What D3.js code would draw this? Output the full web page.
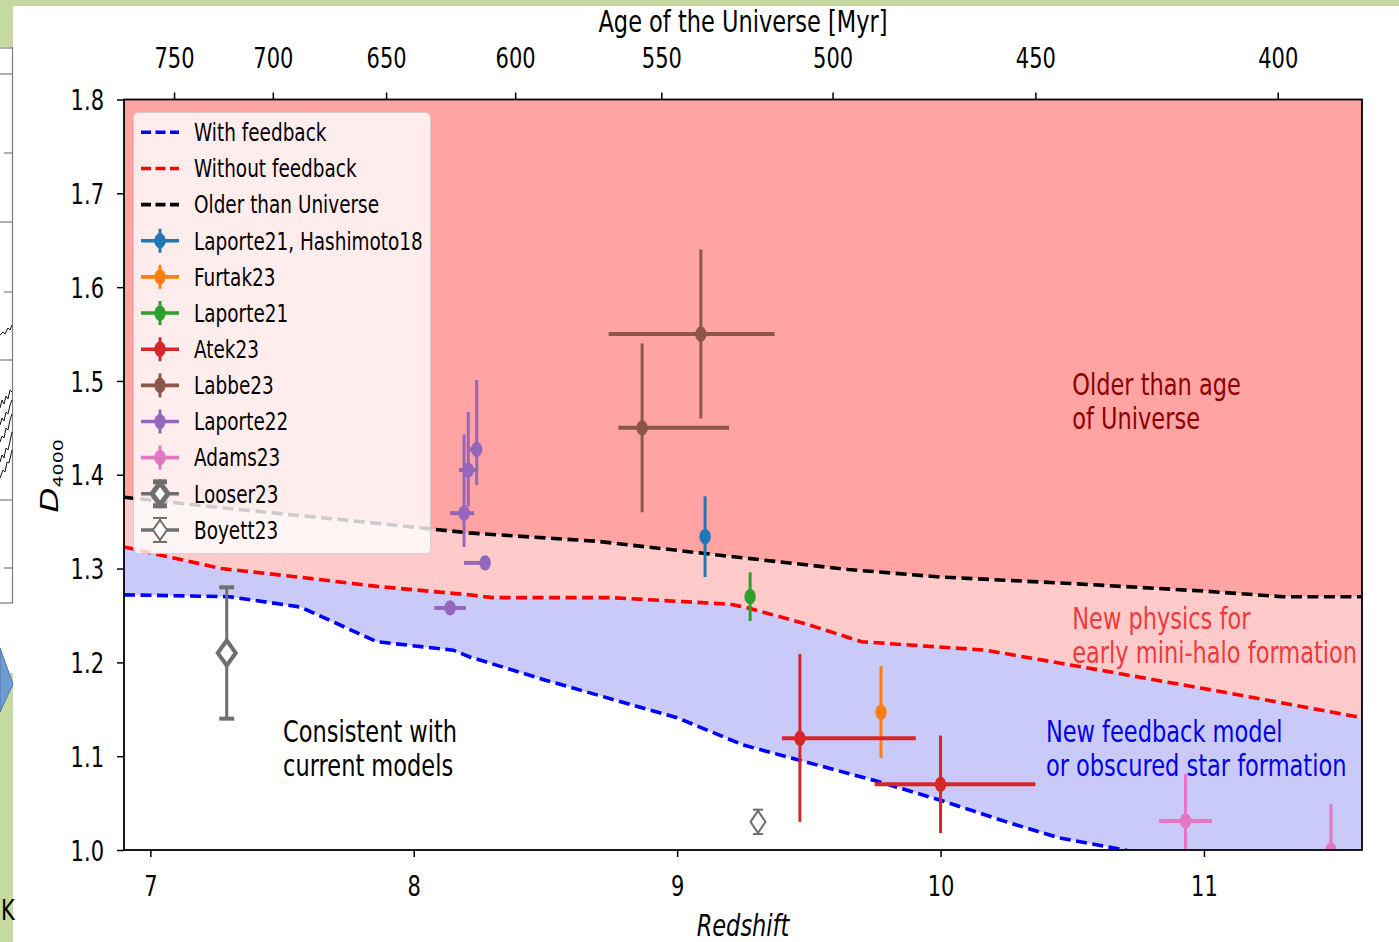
<!DOCTYPE html>
<html>
<head>
<meta charset="utf-8">
<script src="https://cdn.jsdelivr.net/npm/d3@7"></script>
<style>
  body { margin: 0; background: #fff; }
  svg { display: block; }
  text { font-family: "DejaVu Sans", "Liberation Sans", sans-serif; }
</style>
</head>
<body>
<svg id="chart" width="1399" height="942"></svg>
<script>
// ---- model curves (redshift, D4000) ----
const fbZ   = [6.9, 7.3, 7.57, 7.86, 8.15, 8.21, 8.5, 9.0, 9.25, 9.5, 9.75, 10.0, 10.25, 10.45, 10.7, 11.6];
const fbD   = [1.272, 1.270, 1.259, 1.222, 1.213, 1.206, 1.181, 1.141, 1.112, 1.093, 1.074, 1.053, 1.030, 1.013, 1.000, 0.930];
const noFbZ = [6.9, 7.27, 7.56, 7.86, 8.21, 8.3, 8.75, 9.2, 9.27, 9.5, 9.7, 10.17, 10.6, 11.1, 11.6];
const noFbD = [1.323, 1.300, 1.291, 1.281, 1.272, 1.269, 1.269, 1.262, 1.258, 1.240, 1.222, 1.213, 1.192, 1.167, 1.141];
const olderZ = [6.9, 7.3, 7.8, 8.21, 8.7, 9.2, 9.65, 10.0, 10.5, 11.0, 11.3, 11.6];
const olderD = [1.376, 1.364, 1.350, 1.338, 1.329, 1.313, 1.299, 1.291, 1.284, 1.276, 1.270, 1.270];

// ---- observations ----
const sourceNames = ["Laporte21, Hashimoto18", "Furtak23", "Laporte21", "Atek23", "Labbe23",
                     "Laporte22", "Adams23", "Looser23", "Boyett23"];
const pointSource = [0, 1, 2, 3, 3, 4, 4, 5, 5, 5, 5, 5, 6, 6, 7, 8];
const pointZ      = [9.106, 9.774, 9.277, 9.466, 10.0, 9.09, 8.867, 8.239, 8.207, 8.191, 8.271, 8.138, 10.93, 11.482, 7.29, 9.307];
const pointD      = [1.334, 1.147, 1.270, 1.119, 1.070, 1.550, 1.450, 1.427, 1.405, 1.359, 1.306, 1.258, 1.031, 1.000, 1.210, 1.030];
const zErrLo      = [0, 0, 0, 0.068, 0.25, 0.35, 0.09, 0.036, 0.035, 0.053, 0.08, 0.06, 0.10, 0, 0, 0];
const zErrHi      = [0, 0, 0, 0.44, 0.36, 0.28, 0.33, 0, 0.035, 0.038, 0, 0.06, 0.10, 0, 0, 0];
const dErrLo      = [0.043, 0.049, 0.026, 0.089, 0.052, 0.09, 0.09, 0.038, 0.039, 0.036, 0, 0, 0.05, 0.05, 0.07, 0.013];
const dErrHi      = [0.043, 0.049, 0.026, 0.090, 0.052, 0.09, 0.09, 0.074, 0.062, 0.084, 0, 0, 0.05, 0.049, 0.07, 0.013];

// ---- axis ticks ----
const redshiftTicks = [7, 8, 9, 10, 11];
const dTicks = [1.0, 1.1, 1.2, 1.3, 1.4, 1.5, 1.6, 1.7, 1.8];
const ageTicks = [750, 700, 650, 600, 550, 500, 450, 400];
const ageTickRedshift = [7.09, 7.465, 7.895, 8.385, 8.94, 9.59, 10.36, 11.28];

// ---- text ----
const legendLabels = ["With feedback", "Without feedback", "Older than Universe"];
const regionNotes = [
  { lines: ["Older than age", "of Universe"], z: 10.5, d: 1.4853, color: "#8b0000" },
  { lines: ["New physics for", "early mini-halo formation"], z: 10.5, d: 1.2357, color: "#ee3a3a" },
  { lines: ["New feedback model", "or obscured star formation"], z: 10.4, d: 1.1152, color: "#0000e6" },
  { lines: ["Consistent with", "current models"], z: 7.504, d: 1.1152, color: "#000" }
];

const SX = 0.75;           // glyph / marker horizontal compression
const W = 1399, H = 942;
const plot = { left: 124, right: 1362, top: 99.5, bottom: 850 };
const FONT = '"DejaVu Sans", "Liberation Sans", sans-serif';
const sourceColors = ["#1f77b4", "#ff7f0e", "#2ca02c", "#d62728", "#8c564b", "#9467bd", "#e377c2", "#6f6f6f", "#6f6f6f"];

const x = d3.scaleLinear().domain([6.9, 11.6]).range([plot.left, plot.right]);
const y = d3.scaleLinear().domain([1.0, 1.8]).range([plot.bottom, plot.top]);

const svg = d3.select("#chart");

function label(parent, px, py, str, opt = {}) {
  return parent.append("text")
    .attr("transform", `translate(${px},${py}) scale(${SX},1)`)
    .attr("text-anchor", opt.anchor || "start")
    .attr("font-size", opt.size || 28)
    .attr("font-style", opt.style || "normal")
    .attr("fill", opt.fill || "#000")
    .text(str);
}

// ---- page backdrop (slide frame around the figure) ----
svg.append("rect").attr("width", W).attr("height", H).attr("fill", "#c6d9a0");
svg.append("rect").attr("x", 13).attr("y", 6).attr("width", W - 13).attr("height", H - 6).attr("fill", "#fff");
svg.append("rect").attr("x", 0).attr("y", 47).attr("width", 13).attr("height", 626).attr("fill", "#fff");
const side = svg.append("g").attr("stroke", "#7a7a7a").attr("stroke-width", 1.2).attr("fill", "none");
side.append("line").attr("x1", 12.5).attr("x2", 12.5).attr("y1", 47).attr("y2", 603);
[48, 74, 222, 360, 500, 603].forEach(v => side.append("line").attr("x1", 0).attr("x2", 13).attr("y1", v).attr("y2", v));
[153, 292, 568].forEach(v => side.append("line").attr("x1", 4).attr("x2", 13).attr("y1", v).attr("y2", v));
const squig = svg.append("g").attr("stroke", "#111").attr("stroke-width", 1).attr("fill", "none");
[
  [[0, 335], [3, 332], [5, 334], [8, 328], [10, 330], [12, 325]],
  [[0, 408], [2, 400], [4, 404], [6, 396], [8, 399], [10, 390], [12, 392]],
  [[0, 425], [2, 418], [4, 421], [6, 412], [8, 414], [10, 405], [12, 400]],
  [[0, 442], [2, 436], [4, 438], [6, 428], [8, 430], [10, 420], [12, 414]],
  [[0, 462], [2, 455], [4, 458], [6, 448], [8, 450], [10, 441], [12, 432]],
  [[0, 478], [3, 470], [5, 472], [7, 462], [9, 463], [12, 450]]
].forEach(p => squig.append("path").attr("d", d3.line()(p)));
svg.append("rect").attr("x", 0).attr("y", 673).attr("width", 13).attr("height", 269).attr("fill", "#c6d9a0");
svg.append("path").attr("d", "M0,648L13,684L0,712Z").attr("fill", "#6d9bd3").attr("stroke", "#4a78b0").attr("stroke-width", 1);
label(svg, 1, 920, "K", { size: 28 });

// ---- plot regions ----
svg.append("defs").append("clipPath").attr("id", "plotClip")
  .append("rect").attr("x", plot.left).attr("y", plot.top)
  .attr("width", plot.right - plot.left).attr("height", plot.bottom - plot.top);
const gPlot = svg.append("g").attr("clip-path", "url(#plotClip)");

const toPts = (zs, ds) => zs.map((z, i) => [x(z), y(ds[i])]);
const olderPts = toPts(olderZ, olderD);
const noFbPts = toPts(noFbZ, noFbD);
const fbPts = toPts(fbZ, fbD);
const poly = d3.line();

gPlot.append("path").attr("fill", "#ffa3a3")
  .attr("d", poly([...olderPts, [x(11.6), y(1.8)], [x(6.9), y(1.8)]]) + "Z");
gPlot.append("path").attr("fill", "#ffcaca")
  .attr("d", poly([...noFbPts, ...olderPts.slice().reverse()]) + "Z");
gPlot.append("path").attr("fill", "#cacaf9")
  .attr("d", poly([...fbPts, ...noFbPts.slice().reverse()]) + "Z");

const dash = "11,5.5";
[[fbPts, "#0000ff"], [noFbPts, "#ff0000"], [olderPts, "#000000"]].forEach(([p, c]) => {
  gPlot.append("path").attr("d", poly(p)).attr("fill", "none")
    .attr("stroke", c).attr("stroke-width", 3.6).attr("stroke-dasharray", dash);
});

// ---- region notes ----
regionNotes.forEach(n => {
  n.lines.forEach((t, i) => label(svg, x(n.z), y(n.d) + i * 34, t, { size: 30, fill: n.color }));
});

// ---- error bars and markers ----
function diamond(g, cx, cy, hw, hh, sw) {
  g.append("path").attr("d", `M${cx},${cy - hh}L${cx + hw},${cy}L${cx},${cy + hh}L${cx - hw},${cy}Z`)
    .attr("fill", "#fff").attr("stroke", "#6f6f6f").attr("stroke-width", sw);
}
pointZ.forEach((z, i) => {
  const s = pointSource[i], c = sourceColors[s];
  const cx = x(z), cy = y(pointD[i]);
  const g = gPlot.append("g");
  if (zErrLo[i] || zErrHi[i]) {
    g.append("line").attr("x1", x(z - zErrLo[i])).attr("x2", x(z + zErrHi[i]))
      .attr("y1", cy).attr("y2", cy).attr("stroke", c).attr("stroke-width", 4);
  }
  if (dErrLo[i] || dErrHi[i]) {
    const y1 = y(pointD[i] + dErrHi[i]), y2 = y(pointD[i] - dErrLo[i]);
    const heavy = s === 7;
    g.append("line").attr("x1", cx).attr("x2", cx).attr("y1", y1).attr("y2", y2)
      .attr("stroke", c).attr("stroke-width", s === 8 ? 2 : 3);
    if (s >= 7) {
      const hw = heavy ? 7.5 : 5;
      [y1, y2].forEach(v => g.append("line").attr("x1", cx - hw).attr("x2", cx + hw)
        .attr("y1", v).attr("y2", v).attr("stroke", c).attr("stroke-width", heavy ? 4 : 2));
    }
  }
  if (s === 7) diamond(g, cx, cy, 9, 12.5, 4);
  else if (s === 8) diamond(g, cx, cy, 7.5, 11, 2);
  else g.append("ellipse").attr("cx", cx).attr("cy", cy).attr("rx", 5.7).attr("ry", 7.6).attr("fill", c);
});

// ---- frame and axes ----
svg.append("rect").attr("x", plot.left).attr("y", plot.top)
  .attr("width", plot.right - plot.left).attr("height", plot.bottom - plot.top)
  .attr("fill", "none").attr("stroke", "#000").attr("stroke-width", 1.8);

function styleAxis(g, textTransform, anchor, dy) {
  g.attr("font-family", FONT).attr("font-size", 28);
  g.select(".domain").remove();
  g.selectAll(".tick line").attr("stroke", "#000").attr("stroke-width", 1.5);
  g.selectAll(".tick text").attr("x", 0).attr("y", 0).attr("dy", dy)
    .attr("transform", textTransform).attr("text-anchor", anchor).attr("fill", "#000");
}
const gBottom = svg.append("g").attr("transform", `translate(0,${plot.bottom})`)
  .call(d3.axisBottom(x).tickValues(redshiftTicks).tickFormat(d3.format("d")).tickSize(7));
styleAxis(gBottom, `translate(0,46) scale(${SX},1)`, "middle", null);

const gLeft = svg.append("g").attr("transform", `translate(${plot.left},0)`)
  .call(d3.axisLeft(y).tickValues(dTicks).tickFormat(d3.format(".1f")).tickSize(7));
styleAxis(gLeft, `translate(-20,0) scale(${SX},1)`, "end", "0.36em");

const gTop = svg.append("g").attr("transform", `translate(0,${plot.top})`)
  .call(d3.axisTop(x).tickValues(ageTickRedshift).tickFormat((d, i) => ageTicks[i]).tickSize(7));
styleAxis(gTop, `translate(0,-32) scale(${SX},1)`, "middle", null);

label(svg, (plot.left + plot.right) / 2, 32, "Age of the Universe [Myr]", { size: 30, anchor: "middle" });
label(svg, (plot.left + plot.right) / 2, 936, "Redshift", { size: 30, anchor: "middle", style: "italic" });

const yl = svg.append("text")
  .attr("transform", `translate(58,476) rotate(-90) scale(1,${SX})`)
  .attr("text-anchor", "middle").attr("fill", "#000");
yl.append("tspan").attr("font-size", 33).attr("font-style", "italic").text("D");
yl.append("tspan").attr("font-size", 19).attr("dy", 6).text("4000");

// ---- legend ----
const leg = svg.append("g");
leg.append("rect").attr("x", 133.5).attr("y", 112.5).attr("width", 297).attr("height", 441).attr("rx", 5)
  .attr("fill", "rgba(255,255,255,0.8)").attr("stroke", "rgba(204,204,204,0.8)").attr("stroke-width", 1);
const rowY = i => 132.3 + i * 36.15;
const legendFont = 24.6;
[["#0000ff", legendLabels[0]], ["#ff0000", legendLabels[1]], ["#000000", legendLabels[2]]].forEach(([c, t], i) => {
  leg.append("line").attr("x1", 141).attr("x2", 179).attr("y1", rowY(i)).attr("y2", rowY(i))
    .attr("stroke", c).attr("stroke-width", 3.6).attr("stroke-dasharray", "10,4.5");
  label(leg, 194, rowY(i) + 8.8, t, { size: legendFont });
});
sourceNames.forEach((name, s) => {
  const cy = rowY(s + 3), c = sourceColors[s];
  leg.append("line").attr("x1", 141).attr("x2", 179).attr("y1", cy).attr("y2", cy).attr("stroke", c).attr("stroke-width", 3.6);
  leg.append("line").attr("x1", 160).attr("x2", 160).attr("y1", cy - 12).attr("y2", cy + 12)
    .attr("stroke", c).attr("stroke-width", s === 8 ? 2 : 3);
  if (s >= 7) {
    const heavy = s === 7;
    [cy - 12, cy + 12].forEach(v => leg.append("line").attr("x1", 153).attr("x2", 167).attr("y1", v).attr("y2", v)
      .attr("stroke", c).attr("stroke-width", heavy ? 5 : 2));
    diamond(leg, 160, cy, heavy ? 8 : 7, heavy ? 11 : 10, heavy ? 5 : 2);
  } else {
    leg.append("ellipse").attr("cx", 160).attr("cy", cy).attr("rx", 5.7).attr("ry", 7.6).attr("fill", c);
  }
  label(leg, 194, cy + 8.8, name, { size: legendFont });
});
</script>
</body>
</html>
